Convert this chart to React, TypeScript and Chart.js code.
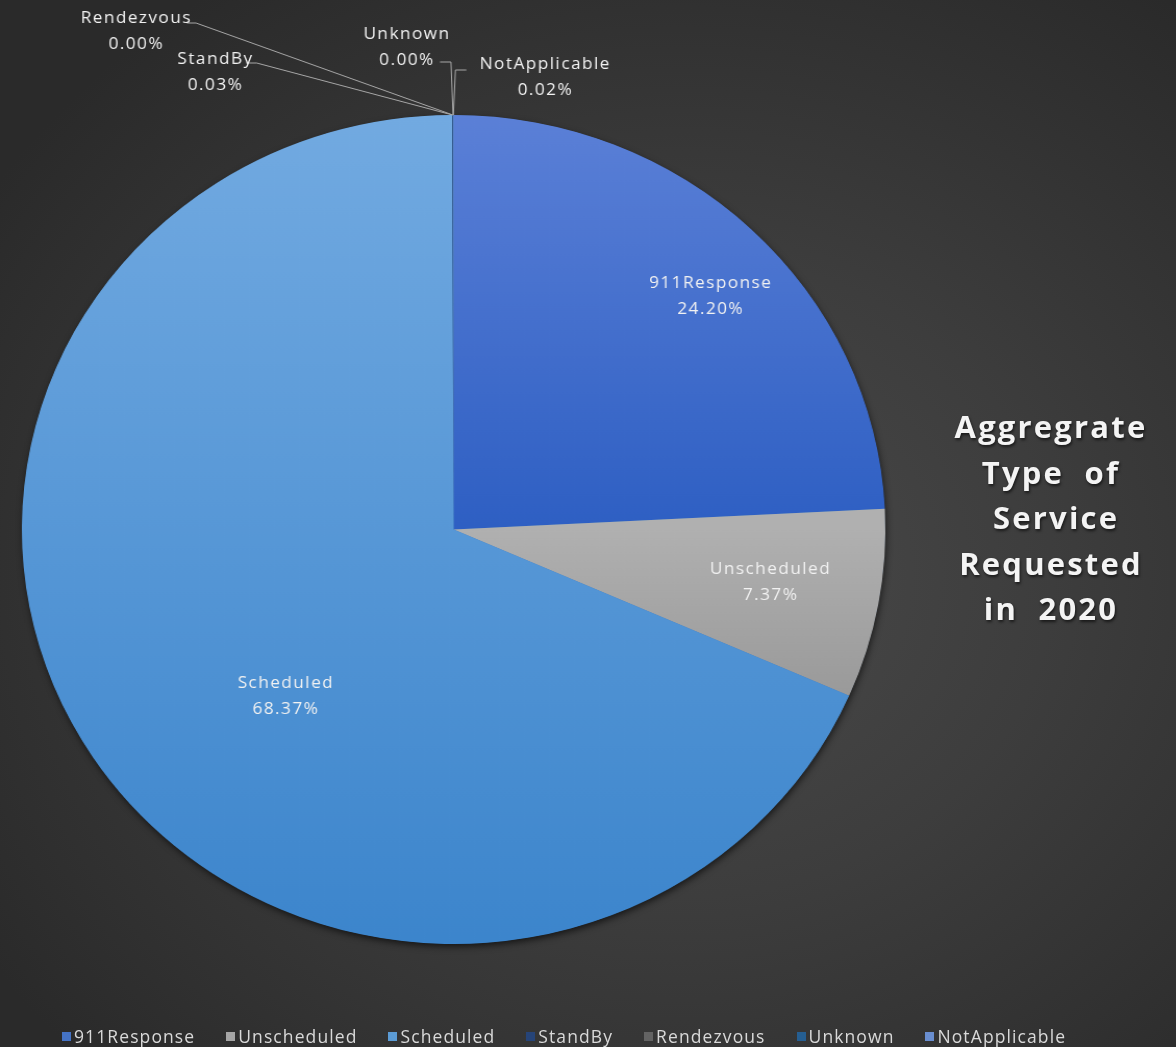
import React, { useEffect, useRef } from "react";
import { Chart, registerables } from "chart.js";

Chart.register(...registerables);

// ---- data ----
const categories = ["911Response", "Unscheduled", "Scheduled", "StandBy", "Rendezvous", "Unknown", "NotApplicable"];
const shareValues = [24.2, 7.37, 68.37, 0.03, 0.004, 0.004, 0.02];
const legendColors = ["#4472c4", "#a5a5a5", "#5b9bd5", "#264478", "#636363", "#255e91", "#698ed0"];
const titleLines = ["Aggregrate", "Type  of", " Service", "Requested", "in  2020"];

// ---- label placement (style config, relative to slice geometry) ----
type Placement =
  | { kind: "inside"; frac: number; rot: number }
  | { kind: "outside"; elbow: [number, number]; end: [number, number]; text: [number, number] };

const labelPlacement: Placement[] = [
  { kind: "inside", frac: 0.82, rot: 3 },
  { kind: "inside", frac: 0.745, rot: -0.6 },
  { kind: "inside", frac: 0.56, rot: -12.8 },
  { kind: "outside", elbow: [-188, -52], end: [-198, -52], text: [-227.5, -43] },
  { kind: "outside", elbow: [-246.7, -92], end: [-255.4, -92], text: [-304, -84] },
  { kind: "outside", elbow: [-2, -53], end: [-12.5, -53], text: [-44.2, -68] },
  { kind: "outside", elbow: [2, -45], end: [12.5, -45], text: [88.3, -38] },
];

const STRETCH = 1.0416;
const CANVAS_W = 1129;
const CANVAS_H = 1047;

const pieShadow = {
  id: "pieShadow",
  beforeDatasetsDraw(chart: any) {
    const meta = chart.getDatasetMeta(0);
    const a = meta.data[0];
    if (!a) return;
    const { x, y, outerRadius } = a.getProps(["x", "y", "outerRadius"], true);
    const ctx = chart.ctx;
    ctx.save();
    ctx.shadowColor = "rgba(0,0,0,0.65)";
    ctx.shadowBlur = 7;
    ctx.shadowOffsetX = 1;
    ctx.shadowOffsetY = 3;
    ctx.fillStyle = "#3b78c0";
    ctx.beginPath();
    ctx.arc(x, y, outerRadius - 0.5, 0, Math.PI * 2);
    ctx.fill();
    ctx.restore();
  },
};

const sliceLabels = {
  id: "sliceLabels",
  afterDatasetsDraw(chart: any) {
    const ctx = chart.ctx;
    const meta = chart.getDatasetMeta(0);
    const total = shareValues.reduce((a, b) => a + b, 0);
    ctx.save();
    ctx.font = '16.5px "Open Sans"';
    (ctx as any).letterSpacing = "1.4px";
    ctx.textAlign = "center";
    ctx.textBaseline = "middle";
    meta.data.forEach((arc: any, i: number) => {
      const { x, y, startAngle, endAngle, outerRadius } = arc.getProps(
        ["x", "y", "startAngle", "endAngle", "outerRadius"],
        true
      );
      const mid = (startAngle + endAngle) / 2;
      const p = labelPlacement[i];
      const pct = ((shareValues[i] / total) * 100).toFixed(2) + "%";
      let tx: number, ty: number;
      if (p.kind === "inside") {
        const a = mid + (p.rot * Math.PI) / 180;
        const r = outerRadius * p.frac;
        tx = x + Math.cos(a) * r;
        ty = y + Math.sin(a) * r;
      } else {
        const ax = x + Math.cos(mid) * outerRadius;
        const ay = y + Math.sin(mid) * outerRadius;
        ctx.beginPath();
        ctx.strokeStyle = "#a8a8a8";
        ctx.lineWidth = 1;
        ctx.moveTo(ax, ay);
        ctx.lineTo(ax + p.elbow[0], ay + p.elbow[1]);
        ctx.lineTo(ax + p.end[0], ay + p.end[1]);
        ctx.stroke();
        tx = ax + p.text[0];
        ty = ay + p.text[1];
      }
      ctx.fillStyle = "#f2f2f2";
      ctx.fillText(categories[i], tx, ty - 13);
      ctx.fillText(pct, tx, ty + 13);
    });
    ctx.restore();
  },
};

function grad(chart: any, y0: number, y1: number, c0: string, c1: string) {
  const area = chart.chartArea;
  if (!area) return c0;
  const cy = (area.top + area.bottom) / 2;
  const r = (area.bottom - area.top) / 2;
  const g = chart.ctx.createLinearGradient(0, cy + y0 * r, 0, cy + y1 * r);
  g.addColorStop(0, c0);
  g.addColorStop(1, c1);
  return g;
}

export default function App() {
  const canvasRef = useRef<HTMLCanvasElement | null>(null);

  useEffect(() => {
    if (!canvasRef.current) return;
    const chart = new Chart(canvasRef.current, {
      type: "pie",
      data: {
        labels: categories,
        datasets: [
          {
            data: shareValues,
            borderWidth: 0,
            backgroundColor: (c: any) => {
              const ch = c.chart;
              switch (c.dataIndex) {
                case 0:
                  return grad(ch, -1, 0, "#5b80d7", "#2e5fc3");
                case 1:
                  return grad(ch, 0, 0.45, "#b0b0b0", "#979797");
                case 2:
                  return grad(ch, -1, 1, "#72aae1", "#3c85cc");
                default:
                  return legendColors[c.dataIndex];
              }
            },
          },
        ],
      },
      options: {
        animation: false,
        responsive: true,
        maintainAspectRatio: false,
        layout: { padding: { top: 115, bottom: 103, left: 21, right: CANVAS_W - 850 } },
        plugins: {
          legend: { display: false },
          tooltip: { enabled: false },
        },
      },
      plugins: [pieShadow, sliceLabels],
    });
    return () => chart.destroy();
  }, []);

  return (
    <div
      style={{
        position: "fixed",
        left: 0,
        top: 0,
        width: 1176,
        height: 1047,
        overflow: "hidden",
        background:
          "radial-gradient(ellipse 70% 68% at 58% 55%, #4a4a4a 0%, #3d3d3d 45%, #2a2a2a 100%)",
        fontFamily: '"Open Sans", sans-serif',
      }}
    >
      <div
        style={{
          position: "absolute",
          left: 0,
          top: 0,
          width: CANVAS_W,
          height: CANVAS_H,
          transform: `scaleX(${STRETCH})`,
          transformOrigin: "0 0",
        }}
      >
        <canvas ref={canvasRef} />
      </div>
      <div
        style={{
          position: "absolute",
          left: 926,
          width: 250,
          top: 404,
          color: "#f4f4f4",
          fontWeight: 700,
          fontSize: 31,
          lineHeight: "45.5px",
          letterSpacing: "2.2px",
          textAlign: "center",
          whiteSpace: "pre",
          textShadow: "1px 2px 3px rgba(0,0,0,0.6)",
        }}
      >
        {titleLines.map((t, i) => (
          <div key={i}>{t}</div>
        ))}
      </div>
      <div
        style={{
          position: "absolute",
          left: 62,
          top: 1024,
          height: 24,
          display: "flex",
          alignItems: "center",
          gap: 31,
          color: "#d9d9d9",
          fontSize: 17.5,
          letterSpacing: "1.1px",
          whiteSpace: "nowrap",
        }}
      >
        {categories.map((c, i) => (
          <div key={c} style={{ display: "flex", alignItems: "center" }}>
            <span
              style={{ display: "inline-block", width: 9, height: 9, background: legendColors[i], marginRight: 3 }}
            />
            <span>{c}</span>
          </div>
        ))}
      </div>
    </div>
  );
}
